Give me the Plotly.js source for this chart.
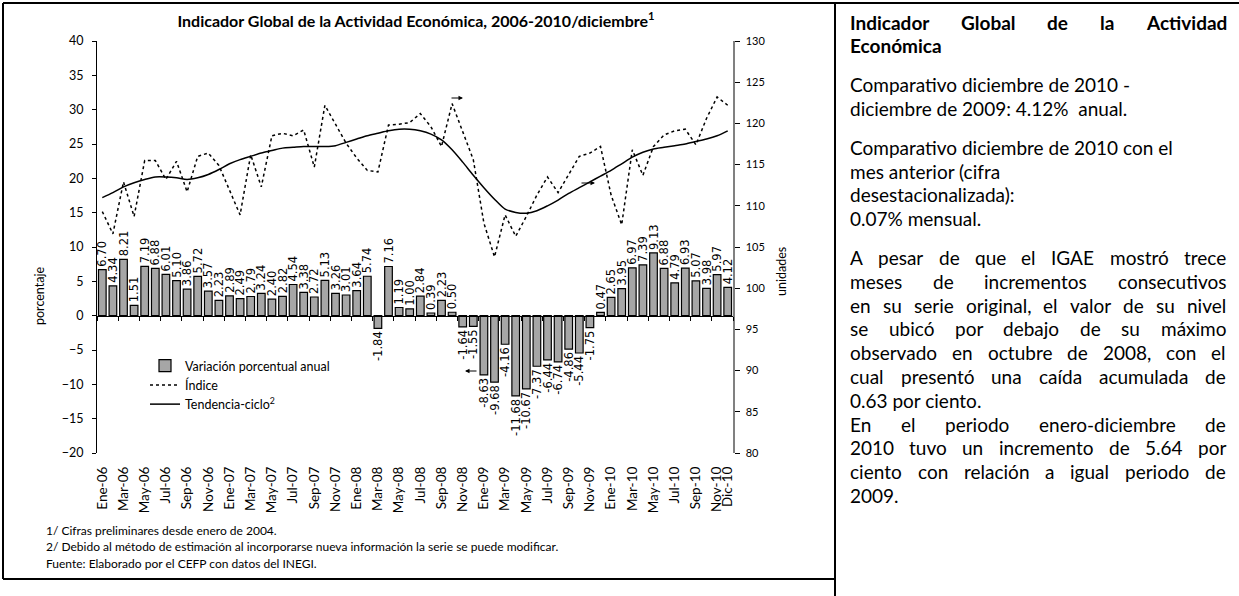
<!DOCTYPE html>
<html>
<head>
<meta charset="utf-8">
<script src="https://cdn.plot.ly/plotly-3.0.1.min.js"></script>
<style>
  html, body { margin: 0; padding: 0; background: #fff; }
  #igae { width: 1239px; height: 596px; }
</style>
</head>
<body>
<div id="igae"></div>
<script>
'use strict';

const ID = 'igae';
const W = 1239;
const H = 596;

// Periodos mensuales ene-2006 a dic-2010
const MESES = ['Ene', 'Feb', 'Mar', 'Abr', 'May', 'Jun', 'Jul', 'Ago', 'Sep', 'Oct', 'Nov', 'Dic'];
const ANIOS = ['06', '07', '08', '09', '10'];
const periodos = [];
ANIOS.forEach(a => MESES.forEach(m => periodos.push(m + '-' + a)));

// Variacion porcentual anual (eje izquierdo)
const variacionAnual = [
  6.70, 4.34, 8.21, 1.51, 7.19, 6.88, 6.01, 5.10, 3.86, 5.72, 3.57, 2.23,
  2.89, 2.49, 2.79, 3.24, 2.40, 2.82, 4.54, 3.38, 2.72, 5.13, 3.26, 3.01,
  3.64, 5.74, -1.84, 7.16, 1.19, 1.00, 2.84, 0.39, 2.23, 0.50, -1.64, -1.55,
  -8.63, -9.68, -4.16, -11.68, -10.67, -7.37, -6.44, -6.74, -4.86, -5.44, -1.75, 0.47,
  2.65, 3.95, 6.97, 7.39, 9.13, 6.88, 4.79, 6.93, 5.07, 3.98, 5.97, 4.12
];

// Indice (eje derecho, unidades)
const indice = [
  109.3, 106.6, 112.9, 108.7, 115.5, 115.5, 113.2, 115.4, 111.7, 116.0, 116.4, 114.9,
  111.9, 108.9, 116.2, 112.3, 118.5, 118.8, 118.5, 119.2, 114.7, 122.2, 119.9, 117.6,
  115.8, 114.3, 114.1, 119.8, 119.9, 120.1, 121.2, 119.6, 117.2, 122.4, 119.0, 115.6,
  107.9, 103.8, 108.9, 106.3, 108.7, 111.3, 113.5, 111.6, 113.8, 116.0, 116.4, 117.2,
  111.3, 107.7, 116.8, 113.7, 117.2, 118.6, 119.1, 119.3, 117.4, 120.6, 123.2, 122.2
];

// Tendencia-ciclo (eje derecho, unidades)
const tendencia = [
  111.0, 111.6, 112.3, 112.8, 113.2, 113.5, 113.5, 113.4, 113.2, 113.4, 113.8, 114.4,
  115.1, 115.6, 116.0, 116.4, 116.7, 117.0, 117.1, 117.2, 117.2, 117.2, 117.3, 117.7,
  118.1, 118.5, 118.8, 119.1, 119.3, 119.3, 119.1, 118.7, 118.0, 116.8, 115.3, 113.7,
  112.2, 110.8, 109.6, 109.2, 109.1, 109.4, 110.0, 110.7, 111.5, 112.2, 112.9, 113.6,
  114.3, 115.1, 115.9, 116.5, 116.9, 117.1, 117.3, 117.5, 117.8, 118.1, 118.5, 119.1
];

// Etiquetas del eje x: cada dos meses y el ultimo
const etiquetasX = periodos.filter((p, i) => i % 2 === 0 || i === periodos.length - 1);

const notas = [
  '1/ Cifras preliminares desde enero de 2004.',
  '2/ Debido al método de estimación al incorporarse nueva información la serie se puede modificar.',
  'Fuente: Elaborado por el CEFP con datos del INEGI.'
];

const parrafos = [
  { bold: true, justify: true, lineas: ['Indicador Global de la Actividad', 'Económica'] },
  { lineas: ['Comparativo diciembre de 2010 -', 'diciembre de 2009: 4.12%  anual.'] },
  { lineas: ['Comparativo diciembre de 2010 con el', 'mes anterior (cifra', 'desestacionalizada):', '0.07% mensual.'] },
  { justify: true, lineas: ['A pesar de que el IGAE mostró trece', 'meses de incrementos consecutivos',
             'en su serie original, el valor de su nivel', 'se ubicó por debajo de su máximo',
             'observado en octubre de 2008, con el', 'cual presentó una caída acumulada de',
             '0.63 por ciento.'] },
  { justify: true, lineas: ['En el periodo enero-diciembre de', '2010 tuvo un incremento de 5.64 por',
             'ciento con relación a igual periodo de', '2009.'] }
];

const FONT = 'Lato, "Open Sans", sans-serif';
const px = x => x / W;
const py = y => 1 - y / H;

// Area de trazado en pixeles
const plotBox = { left: 97, right: 733, top: 41, bottom: 453 };
const yRange = [-20, 40];
const yDomain = [py(plotBox.bottom), py(plotBox.top)];
const zeroPos = yDomain[0] + (0 - yRange[0]) / (yRange[1] - yRange[0]) * (yDomain[1] - yDomain[0]);

const data = [
  {
    type: 'bar',
    name: 'Variación porcentual anual',
    x: periodos,
    y: variacionAnual,
    marker: { color: '#a6a6a6', line: { color: '#000', width: 1.2 } },
    text: variacionAnual.map(v => v.toFixed(2)),
    textposition: 'outside',
    textangle: -90,
    constraintext: 'none',
    cliponaxis: false,
    textfont: { family: '"DejaVu Sans", sans-serif', size: 11.5, color: '#000' }
  },
  {
    type: 'scatter',
    mode: 'lines',
    name: 'Índice',
    x: periodos,
    y: indice,
    yaxis: 'y2',
    line: { color: '#000', width: 1.5, dash: 'dot' }
  },
  {
    type: 'scatter',
    mode: 'lines',
    name: 'Tendencia-ciclo<sup>2</sup>',
    x: periodos,
    y: tendencia,
    yaxis: 'y2',
    line: { color: '#000', width: 1.5, shape: 'spline', smoothing: 0.8 }
  },
  {
    // eje auxiliar para la linea del cero con sus marcas
    type: 'scatter',
    mode: 'lines',
    x: [null],
    y: [null],
    xaxis: 'x2',
    showlegend: false,
    hoverinfo: 'skip'
  }
];

const annotations = [
  {
    text: 'porcentaje', textangle: -90, showarrow: false,
    xref: 'paper', yref: 'paper', x: px(40), y: py(296),
    xanchor: 'center', yanchor: 'middle',
    font: { family: FONT, size: 12.5, color: '#000' }
  },
  {
    text: 'unidades', textangle: -90, showarrow: false,
    xref: 'paper', yref: 'paper', x: px(781), y: py(272),
    xanchor: 'center', yanchor: 'middle',
    font: { family: FONT, size: 12.5, color: '#000' }
  }
];

notas.forEach((t, i) => annotations.push({
  text: t, showarrow: false, xref: 'paper', yref: 'paper',
  x: px(44), y: py(530 + i * 16.5), xanchor: 'left', yanchor: 'middle',
  font: { family: FONT, size: 12, color: '#000' }
}));

// Flechas sueltas del grafico original
[[463, 98, -13], [595, 183, -15], [465, 371, 13]].forEach(a => annotations.push({
  text: '', xref: 'paper', yref: 'paper', x: px(a[0]), y: py(a[1]),
  ax: a[2], ay: 0, showarrow: true, arrowhead: 2, arrowsize: 0.9,
  arrowwidth: 1, arrowcolor: '#000'
}));

// Texto de la columna derecha (justificado con medidas del canvas)
const ctx = document.createElement('canvas').getContext('2d');
const TXT_SIZE = 19;
const TXT_LEFT = 848;
const TXT_RIGHT = 1224;

function agregaLinea(linea, y, bold, justificar) {
  const font = { family: FONT, size: TXT_SIZE, color: '#000' };
  const envolver = t => (bold ? '<b>' + t + '</b>' : t);
  const palabras = linea.split(/\s+/);
  if (!justificar || palabras.length < 2) {
    annotations.push({
      text: envolver(linea), showarrow: false, xref: 'paper', yref: 'paper',
      x: px(TXT_LEFT), y: py(y), xanchor: 'left', yanchor: 'middle', font: font
    });
    return;
  }
  ctx.font = (bold ? 'bold ' : '') + TXT_SIZE + 'px Lato';
  const anchos = palabras.map(p => ctx.measureText(p).width);
  const total = anchos.reduce((s, a) => s + a, 0);
  const hueco = (TXT_RIGHT - TXT_LEFT - total) / (palabras.length - 1);
  let x = TXT_LEFT;
  palabras.forEach((p, i) => {
    annotations.push({
      text: envolver(p), showarrow: false, xref: 'paper', yref: 'paper',
      x: px(x), y: py(y), xanchor: 'left', yanchor: 'middle', font: font
    });
    x += anchos[i] + hueco;
  });
}

let yLinea = 22;
parrafos.forEach((p, k) => {
  if (k >= 1 && k <= 3) yLinea += 15;
  p.lineas.forEach((l, j) => {
    agregaLinea(l, yLinea, p.bold, p.justify && j < p.lineas.length - 1);
    yLinea += 23.8;
  });
});

const borde = { color: '#000', width: 2 };
const shapes = [
  { type: 'line', xref: 'paper', yref: 'paper', x0: px(3), x1: px(1239), y0: py(3), y1: py(3), line: borde },
  { type: 'line', xref: 'paper', yref: 'paper', x0: px(3), x1: px(3), y0: py(3), y1: py(579), line: borde },
  { type: 'line', xref: 'paper', yref: 'paper', x0: px(3), x1: px(835), y0: py(579), y1: py(579), line: borde },
  { type: 'line', xref: 'paper', yref: 'paper', x0: px(835), x1: px(835), y0: py(3), y1: py(596), line: borde }
];

const layout = {
  width: W,
  height: H,
  margin: { l: 0, r: 0, t: 0, b: 0 },
  paper_bgcolor: '#fff',
  plot_bgcolor: 'rgba(0,0,0,0)',
  font: { family: FONT, color: '#000' },
  title: {
    text: '<b>Indicador Global de la Actividad Económica, 2006-2010/diciembre<sup>1</sup></b>',
    font: { family: FONT, size: 16, color: '#000' },
    x: px(416), xref: 'paper', xanchor: 'center',
    y: py(21), yref: 'paper', yanchor: 'middle'
  },
  bargap: 0.28,
  showlegend: true,
  legend: {
    x: px(145), y: py(351), xanchor: 'left', yanchor: 'top',
    bgcolor: 'rgba(0,0,0,0)', font: { family: FONT, size: 12.5, color: '#000' },
    traceorder: 'normal', tracegroupgap: 0
  },
  xaxis: {
    type: 'category',
    domain: [px(plotBox.left), px(plotBox.right)],
    anchor: 'y',
    range: [-0.5, periodos.length - 0.5],
    tickmode: 'array',
    tickvals: etiquetasX,
    ticktext: etiquetasX,
    tickangle: -90,
    ticks: '',
    ticklabelstandoff: 10,
    showline: false,
    showgrid: false,
    zeroline: false,
    tickfont: { family: FONT, size: 13.5, color: '#000' }
  },
  xaxis2: {
    type: 'linear',
    overlaying: 'x',
    domain: [px(plotBox.left), px(plotBox.right)],
    anchor: 'free',
    position: zeroPos,
    range: [-0.5, periodos.length - 0.5],
    tickmode: 'linear',
    tick0: -0.5,
    dtick: 2,
    ticks: 'outside',
    ticklen: 4,
    tickcolor: '#000',
    showticklabels: false,
    showline: true,
    linecolor: '#000',
    linewidth: 1,
    showgrid: false,
    zeroline: false
  },
  yaxis: {
    domain: yDomain,
    range: yRange,
    dtick: 5,
    ticks: 'outside',
    ticklen: 4,
    tickcolor: '#000',
    ticklabelstandoff: 6,
    showline: true,
    linecolor: '#000',
    linewidth: 1,
    showgrid: false,
    zeroline: false,
    tickfont: { family: FONT, size: 12.5, color: '#000' }
  },
  yaxis2: {
    overlaying: 'y',
    side: 'right',
    anchor: 'x',
    range: [80, 130],
    dtick: 5,
    ticks: 'outside',
    ticklen: 5,
    tickcolor: '#000',
    ticklabelstandoff: 4,
    showline: true,
    linecolor: '#808080',
    linewidth: 1.5,
    showgrid: false,
    zeroline: false,
    tickfont: { family: FONT, size: 11, color: '#000' }
  },
  annotations: annotations,
  shapes: shapes
};

Plotly.newPlot(ID, data, layout, { staticPlot: true, displayModeBar: false });
</script>
</body>
</html>
